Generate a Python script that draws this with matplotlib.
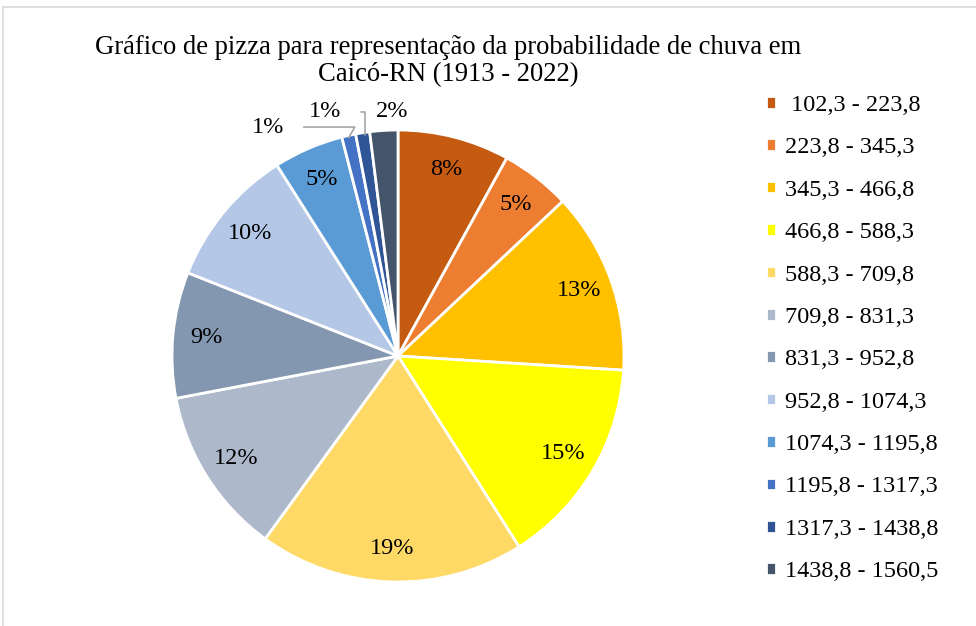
import numpy as np
import matplotlib.pyplot as plt
from matplotlib.patches import Rectangle

plt.rcParams['font.family'] = ['Liberation Serif', 'DejaVu Serif']

# Rainfall classes (mm) and share of years in each class
classes = [' 102,3 - 223,8', '223,8 - 345,3', '345,3 - 466,8', '466,8 - 588,3',
           '588,3 - 709,8', '709,8 - 831,3', '831,3 - 952,8', '952,8 - 1074,3',
           '1074,3 - 1195,8', '1195,8 - 1317,3', '1317,3 - 1438,8', '1438,8 - 1560,5']
percent = [8, 5, 13, 15, 19, 12, 9, 10, 5, 1, 1, 2]
colors = ['#C55A11', '#ED7D31', '#FFC000', '#FFFF00', '#FFD966', '#ADB9CA',
          '#8497B0', '#B4C7E7', '#5B9BD5', '#4472C4', '#2F5597', '#44546A']

W, H = 976, 626
fig = plt.figure(figsize=(W / 100, H / 100), dpi=100)

# light gray chart border
fig.patches.append(Rectangle((3 / W, -0.1), 1.1, (H - 7) / H + 0.1, transform=fig.transFigure,
                             fill=False, edgecolor='#D9D9D9', linewidth=1.2))

cx, cy, r = 398, 356, 226
ax = fig.add_axes([(cx - r) / W, (H - cy - r) / H, 2 * r / W, 2 * r / H])
wedges, _ = ax.pie(percent, colors=colors, startangle=90, counterclock=False,
                   wedgeprops=dict(edgecolor='white', linewidth=2))
ax.set_xlim(-1, 1)
ax.set_ylim(-1, 1)
ax.set_aspect('equal')

fs = 17.5
# percentage labels
for i, (w, p) in enumerate(zip(wedges, percent)):
    ang = np.deg2rad((w.theta1 + w.theta2) / 2)
    if p >= 3:
        d = 0.85
        ax.text(d * np.cos(ang), d * np.sin(ang), f'{p}%', ha='center', va='center', fontsize=fs)

# small slices with leader lines
small = [i for i, p in enumerate(percent) if p < 3]
w0, w1, w2 = [wedges[i] for i in small]
a0 = np.deg2rad((w0.theta1 + w0.theta2) / 2)
a1 = np.deg2rad((w1.theta1 + w1.theta2) / 2)
a2 = np.deg2rad((w2.theta1 + w2.theta2) / 2)
ax.annotate(f'{percent[small[0]]}%', xy=(np.cos(a0), np.sin(a0) * 0.99), xytext=(-0.575, 1.013),
            ha='center', va='center', fontsize=fs, annotation_clip=False,
            arrowprops=dict(arrowstyle='-', color='#A6A6A6', lw=1.2, shrinkA=12, shrinkB=0,
                            connectionstyle='angle,angleA=0,angleB=60,rad=0'))
ax.annotate(f'{percent[small[1]]}%', xy=(np.cos(a1) + 0.01, np.sin(a1) * 0.99), xytext=(-0.323, 1.08),
            ha='center', va='center', fontsize=fs, annotation_clip=False,
            arrowprops=dict(arrowstyle='-', color='#A6A6A6', lw=1.2, shrinkA=12, shrinkB=0,
                            connectionstyle='angle,angleA=0,angleB=90,rad=0'))
ax.text(-0.027, 1.08, f'{percent[small[2]]}%', ha='center', va='center', fontsize=fs)

fig.text(448 / W, 1 - 47 / H, 'Gráfico de pizza para representação da probabilidade de chuva em',
         ha='center', va='center', fontsize=19.2)
fig.text(448 / W, 1 - 75 / H, 'Caicó-RN (1913 - 2022)', ha='center', va='center', fontsize=19.2)

fig.legend(wedges, classes, loc='upper left', bbox_to_anchor=(766 / W, 1 - 95 / H),
           frameon=False, fontsize=17.5, handlelength=0.42, handleheight=0.42,
           handletextpad=0.35, labelspacing=0.88, borderpad=0, borderaxespad=0)

fig.savefig('out.png', dpi=100)
